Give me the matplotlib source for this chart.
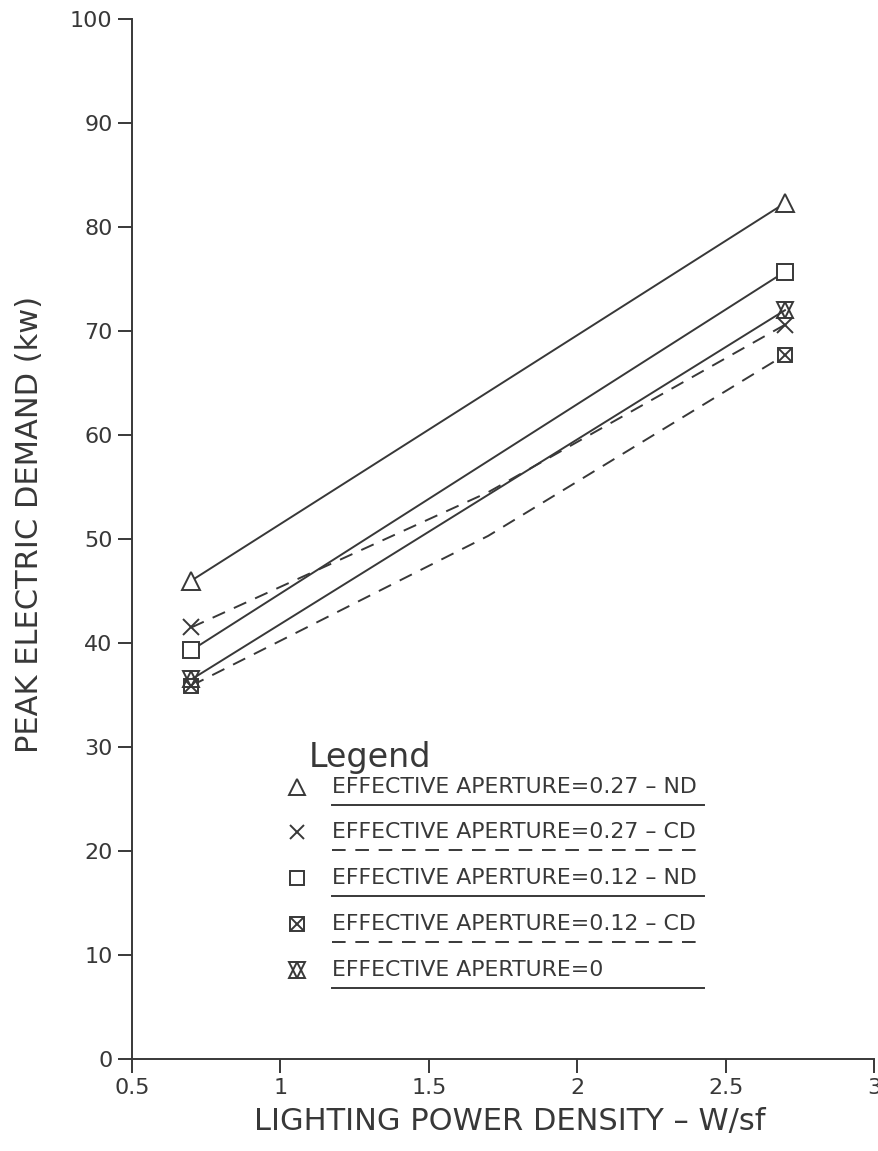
import matplotlib
matplotlib.use("Agg")
import matplotlib.pyplot as plt

# Lighting power density (W/sf)
lpd_two = [0.7, 2.7]
lpd_three = [0.7, 1.7, 2.7]

# Peak electric demand (kW)
ea027_nd = [46.0, 82.3]
ea027_cd = [41.5, 54.5, 70.6]
ea012_nd = [39.3, 75.7]
ea012_cd = [35.9, 50.3, 67.7]
ea0 = [36.5, 72.0]

legend_labels = [
    "EFFECTIVE APERTURE=0.27 – ND",
    "EFFECTIVE APERTURE=0.27 – CD",
    "EFFECTIVE APERTURE=0.12 – ND",
    "EFFECTIVE APERTURE=0.12 – CD",
    "EFFECTIVE APERTURE=0",
]

x_ticks = [0.5, 1, 1.5, 2, 2.5, 3]
x_tick_labels = ["0.5", "1", "1.5", "2", "2.5", "3"]
y_ticks = [0, 10, 20, 30, 40, 50, 60, 70, 80, 90, 100]

INK = "#383838"
plt.rcParams["font.family"] = ["DejaVu Sans"]

fig = plt.figure(figsize=(8.79, 11.51), dpi=100)
ax = fig.add_axes([0.1502, 0.0799, 0.8441, 0.9036])

lw = 1.4
dash = (0, (7, 5))
ms_tri, ms_sq, ms_x = 13, 11.5, 11

def hourglass(axis, xs, ys, **kw):
    axis.plot(xs, ys, marker="v", ms=ms_sq, mfc="none", mec=INK, mew=lw,
              ls="none", zorder=4, clip_on=False, **kw)
    axis.plot(xs, ys, marker="^", ms=ms_sq, mfc="none", mec=INK, mew=lw,
              ls="none", zorder=4, clip_on=False, **kw)

def boxed_x(axis, xs, ys, **kw):
    axis.plot(xs, ys, marker="s", ms=ms_sq - 1, mfc="white", mec=INK, mew=lw,
              ls="none", zorder=4, clip_on=False, **kw)
    axis.plot(xs, ys, marker="x", ms=ms_sq - 3, mec=INK, mew=lw,
              ls="none", zorder=5, clip_on=False, **kw)

# series lines
ax.plot(lpd_two, ea027_nd, color=INK, lw=lw)
ax.plot(lpd_three, ea027_cd, color=INK, lw=lw, ls=dash)
ax.plot(lpd_two, ea012_nd, color=INK, lw=lw)
ax.plot(lpd_three, ea012_cd, color=INK, lw=lw, ls=dash)
ax.plot(lpd_two, ea0, color=INK, lw=lw)

# series markers (end points)
ax.plot(lpd_two, ea027_nd, ls="none", marker="^", ms=ms_tri, mfc="white",
        mec=INK, mew=lw, zorder=4)
ax.plot([lpd_three[0], lpd_three[-1]], [ea027_cd[0], ea027_cd[-1]], ls="none",
        marker="x", ms=ms_x, mec=INK, mew=lw, zorder=4)
ax.plot(lpd_two, ea012_nd, ls="none", marker="s", ms=ms_sq, mfc="white",
        mec=INK, mew=lw, zorder=4)
boxed_x(ax, [lpd_three[0], lpd_three[-1]], [ea012_cd[0], ea012_cd[-1]])
hourglass(ax, lpd_two, ea0)

ax.set_xlim(0.5, 3)
ax.set_ylim(0, 100)
ax.set_xticks(x_ticks)
ax.set_xticklabels(x_tick_labels)
ax.set_yticks(y_ticks)

for s in ("top", "right"):
    ax.spines[s].set_visible(False)
for s in ("left", "bottom"):
    ax.spines[s].set_color(INK)
    ax.spines[s].set_linewidth(1.4)
ax.tick_params(direction="out", length=10, width=1.4, color=INK,
               labelcolor=INK, labelsize=16, pad=4)

ax.set_xlabel("LIGHTING POWER DENSITY – W/sf", fontsize=22, color=INK)
ax.set_ylabel("PEAK ELECTRIC DEMAND (kw)", fontsize=22, color=INK)
ax.xaxis.set_label_coords(0.509, -0.046)
ax.yaxis.set_label_coords(-0.119, 0.514)

# hand-drawn style legend box
tr = ax.transAxes
ax.text(0.238, 0.290, "Legend", transform=tr, fontsize=24, color=INK,
        ha="left", va="center")

row_y = [0.2615, 0.2183, 0.1740, 0.1298, 0.0856]
styles = ["-", dash, "-", dash, "-"]
mk_x = 0.222
text_x = 0.270
line_x1 = 0.771
for i, (yy, lab, st) in enumerate(zip(row_y, legend_labels, styles)):
    ax.text(text_x, yy, lab, transform=tr, fontsize=15.8, color=INK,
            ha="left", va="center")
    ax.plot([text_x, line_x1], [yy - 0.0175] * 2, transform=tr, color=INK,
            lw=lw, ls=st, clip_on=False)
    if i == 0:
        ax.plot([mk_x], [yy], transform=tr, marker="^", ms=ms_tri - 1,
                mfc="none", mec=INK, mew=lw, ls="none")
    elif i == 1:
        ax.plot([mk_x], [yy], transform=tr, marker="x", ms=ms_x - 1,
                mec=INK, mew=lw, ls="none")
    elif i == 2:
        ax.plot([mk_x], [yy], transform=tr, marker="s", ms=ms_sq - 1,
                mfc="none", mec=INK, mew=lw, ls="none")
    elif i == 3:
        boxed_x(ax, [mk_x], [yy], transform=tr)
    else:
        hourglass(ax, [mk_x], [yy], transform=tr)

fig.savefig("out.png", dpi=100, facecolor="white")
